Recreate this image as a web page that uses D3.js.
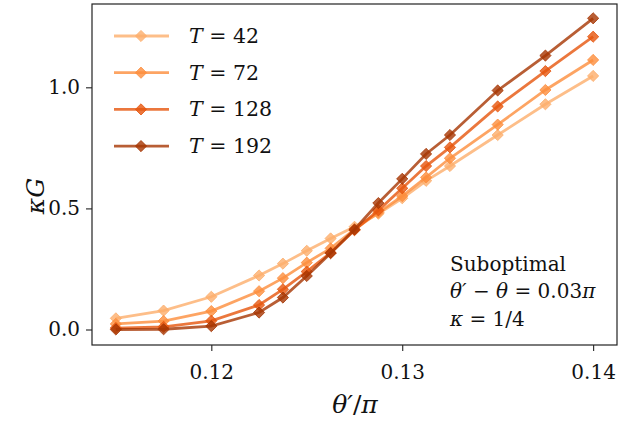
<!DOCTYPE html>
<html>
<head>
<script src="https://d3js.org/d3.v7.min.js"></script>
<style>
  body, html { margin: 0; padding: 0; background: #fff; }
  svg text { font-family: "DejaVu Serif", "Liberation Serif", serif; fill: #111; }
</style>
</head>
<body>
<script>
// data
const thetaValues = [0.115, 0.1175, 0.12, 0.1225, 0.12375, 0.125, 0.12625, 0.1275, 0.12875, 0.13, 0.13125, 0.1325, 0.135, 0.1375, 0.14];
const seriesLabels = ["42", "72", "128", "192"];
const g42  = [0.046, 0.078, 0.135, 0.223, 0.272, 0.325, 0.376, 0.424, 0.478, 0.542, 0.614, 0.675, 0.803, 0.930, 1.047];
const g72  = [0.023, 0.035, 0.076, 0.158, 0.212, 0.276, 0.335, 0.413, 0.483, 0.551, 0.628, 0.707, 0.846, 0.989, 1.113];
const g128 = [0.006, 0.011, 0.036, 0.101, 0.166, 0.239, 0.317, 0.410, 0.492, 0.583, 0.675, 0.752, 0.921, 1.067, 1.209];
const g192 = [0.000, 0.001, 0.014, 0.070, 0.132, 0.221, 0.315, 0.413, 0.522, 0.622, 0.725, 0.803, 0.987, 1.131, 1.285];
const seriesValues = [g42, g72, g128, g192];
const colors = ["#fdae6b", "#fd8d3c", "#e6550d", "#a63603"];
const xTicks = [0.12, 0.13, 0.14];
const yTicks = [0.0, 0.5, 1.0];

const W = 619, H = 431;
const plotL = 92, plotR = 617, plotT = 4, plotB = 345;
const serif = '"DejaVu Serif", "Liberation Serif", serif';

const svg = d3.select("body").append("svg")
    .attr("width", W)
    .attr("height", H)
    .attr("font-family", serif);

const x = d3.scaleLinear().domain([0.11375, 0.14125]).range([plotL, plotR]);
const y = d3.scaleLinear().domain([-0.064, 1.344]).range([plotB, plotT]);

// axes
const xAxis = svg.append("g")
    .attr("transform", `translate(0,${plotB})`)
    .call(d3.axisBottom(x).tickValues(xTicks).tickFormat(d3.format(".2f")).tickSize(6).tickPadding(9));
const yAxis = svg.append("g")
    .attr("transform", `translate(${plotL},0)`)
    .call(d3.axisLeft(y).tickValues(yTicks).tickFormat(d3.format(".1f")).tickSize(6).tickPadding(6));
[xAxis, yAxis].forEach(a => {
    a.attr("font-family", serif).attr("font-size", 20);
    a.select(".domain").remove();
    a.selectAll("line").attr("stroke", "#222").attr("stroke-width", 1.1);
    a.selectAll("text").attr("fill", "#111");
});
xAxis.selectAll("text").attr("dy", "0.95em");

// frame
svg.append("rect")
    .attr("x", plotL).attr("y", plotT)
    .attr("width", plotR - plotL).attr("height", plotB - plotT)
    .attr("fill", "none").attr("stroke", "#222").attr("stroke-width", 1.2);

const plot = svg.append("g");
const line = d3.line().x((d, i) => x(thetaValues[i])).y(d => y(d));
const diamond = d3.symbol().type(d3.symbolDiamond2).size(80);

seriesValues.forEach((vals, k) => {
    const grp = plot.append("g");
    grp.append("path")
        .datum(vals)
        .attr("d", line)
        .attr("fill", "none")
        .attr("stroke", colors[k])
        .attr("stroke-opacity", 0.8)
        .attr("stroke-width", 2.8);
    grp.selectAll("path.pt")
        .data(vals)
        .join("path")
        .attr("class", "pt")
        .attr("d", diamond)
        .attr("transform", (d, i) => `translate(${x(thetaValues[i])},${y(d)})`)
        .attr("fill", colors[k])
        .attr("fill-opacity", 0.8)
        .attr("stroke", colors[k])
        .attr("stroke-opacity", 0.8)
        .attr("stroke-width", 1);
});

// legend
const legend = svg.append("g");
seriesLabels.forEach((lab, k) => {
    const ly = 36 + k * 36.7;
    legend.append("line")
        .attr("x1", 114).attr("x2", 169).attr("y1", ly).attr("y2", ly)
        .attr("stroke", colors[k]).attr("stroke-opacity", 0.8).attr("stroke-width", 2.8);
    legend.append("path")
        .attr("d", diamond)
        .attr("transform", `translate(141,${ly})`)
        .attr("fill", colors[k]).attr("fill-opacity", 0.8)
        .attr("stroke", colors[k]).attr("stroke-opacity", 0.8);
    const t = legend.append("text")
        .attr("x", 189).attr("y", ly + 7)
        .attr("font-size", 20.5);
    t.append("tspan").attr("font-style", "italic").text("T");
    t.append("tspan").text(" = " + lab);
});

// annotation
const ann = svg.append("g").attr("font-size", 20);
ann.append("text").attr("x", 450).attr("y", 271).text("Suboptimal");
const a2 = ann.append("text").attr("x", 450).attr("y", 298);
a2.append("tspan").attr("font-style", "italic").text("θ′");
a2.append("tspan").text(" − ");
a2.append("tspan").attr("font-style", "italic").text("θ");
a2.append("tspan").text(" = 0.03");
a2.append("tspan").attr("font-style", "italic").text("π");
const a3 = ann.append("text").attr("x", 450).attr("y", 326);
a3.append("tspan").attr("font-style", "italic").text("κ");
a3.append("tspan").text(" = 1/4");

// axis labels
const xl = svg.append("text")
    .attr("x", 355).attr("y", 413)
    .attr("text-anchor", "middle")
    .attr("font-size", 25);
xl.append("tspan").attr("font-style", "italic").text("θ′");
xl.append("tspan").text("/");
xl.append("tspan").attr("font-style", "italic").text("π");

svg.append("text")
    .attr("transform", "translate(44,196) rotate(-90)")
    .attr("text-anchor", "middle")
    .attr("font-size", 25)
    .attr("font-style", "italic")
    .text("κG");
</script>
</body>
</html>
